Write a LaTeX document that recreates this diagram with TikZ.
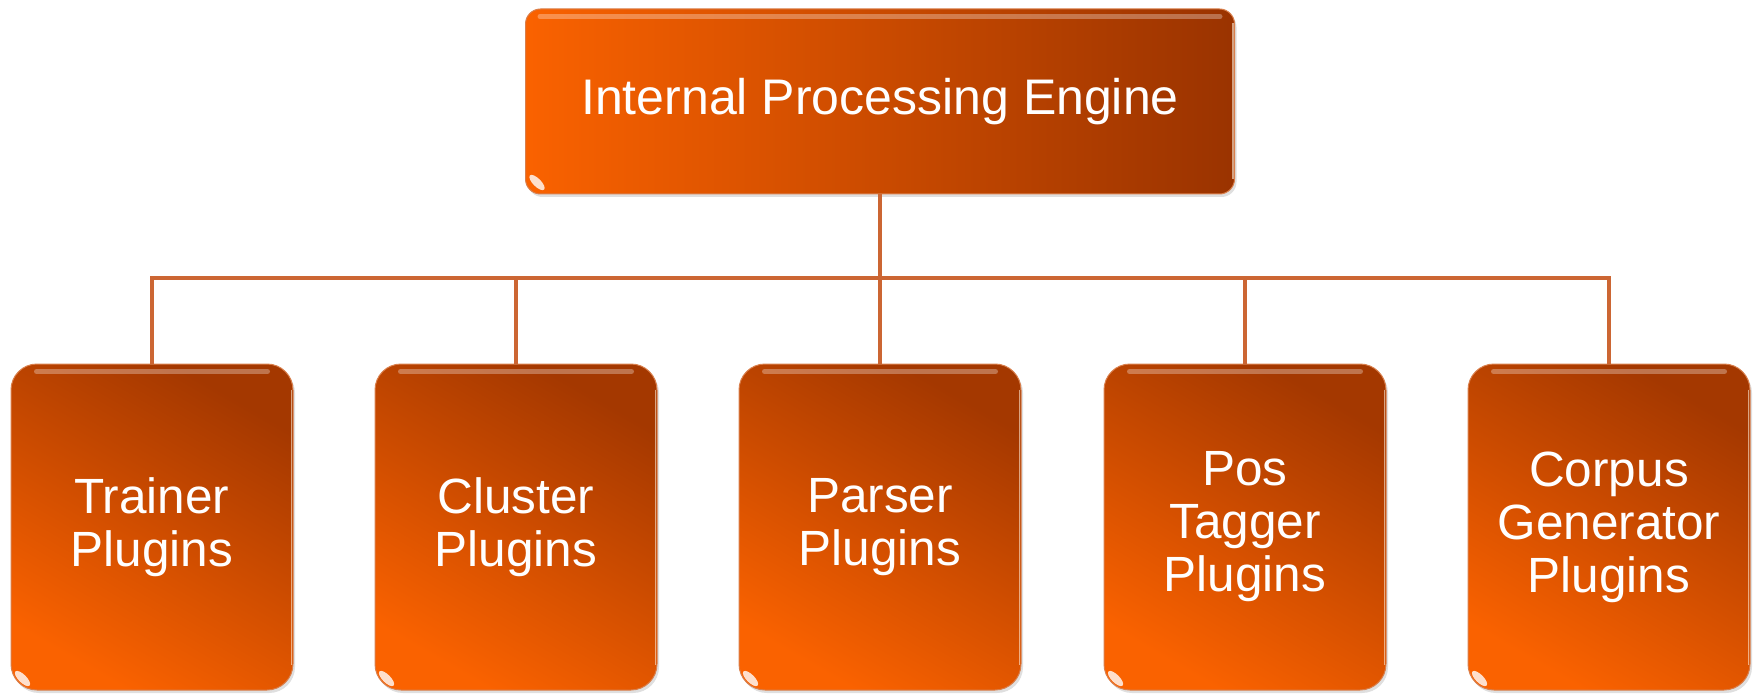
\documentclass[tikz,border=0pt]{standalone}
\usepackage{fontspec}
\setmainfont{Liberation Sans}
\usetikzlibrary{shadows,calc}
\definecolor{brightor}{HTML}{FA6200}
\definecolor{darkor}{HTML}{9A3300}
\definecolor{midor}{HTML}{C84800}
\definecolor{linecol}{HTML}{CC6633}
\begin{document}
\begin{tikzpicture}[x=1pt,y=-1pt,
  topbox/.style={rectangle, rounded corners=15pt, minimum width=709pt, minimum height=185pt,
    left color=brightor, right color=darkor, draw=midor!70!white, line width=1pt,
    drop shadow={opacity=0.25, shadow xshift=2pt, shadow yshift=-3pt},
    text=white, font=\fontsize{50}{53}\selectfont, align=center, inner sep=0pt},
  leafbox/.style={rectangle, rounded corners=26pt, minimum width=282pt, minimum height=326pt,
    top color=darkor!90!brightor, bottom color=brightor, shading angle=-30,
    draw=midor!70!white, line width=1pt,
    drop shadow={opacity=0.25, shadow xshift=2pt, shadow yshift=-3pt},
    text=white, font=\fontsize{49.5}{53}\selectfont, align=center, inner sep=0pt},
  conn/.style={draw=linecol, line width=4pt},
  glint/.style={fill=white, opacity=0.8}
]
\useasboundingbox (0,0) rectangle (1756,695);

\node[topbox] (top) at (880,101.5) {Internal Processing Engine};

\node[leafbox] (b1) at (152,527) {Trainer\\Plugins};
\node[leafbox] (b2) at (516,527) {Cluster\\Plugins};
\node[leafbox] (b3) at (880,527) {Parser\\Plugins};
\node[leafbox] (b4) at (1245,527) {Pos\\Tagger\\Plugins};
\node[leafbox] (b5) at (1609,527) {Corpus\\Generator\\Plugins};

% glossy highlights
\foreach \n/\r in {top/15,b1/26,b2/26,b3/26,b4/26,b5/26}{
  \draw[white, opacity=0.3, line width=5pt, line cap=round]
    ($(\n.north west)+(\r,8)$) -- ($(\n.north east)+(-\r,8)$);
  \fill[glint] ($(\n.south west)+(12,-12)$) ellipse [x radius=10pt, y radius=4pt, rotate=-45];
  \draw[white!85!orange, opacity=0.6, line width=1.5pt]
    ($(\n.north east)+(-2,\r)$) -- ($(\n.south east)+(-2,-\r)$);
}

\coordinate (bus) at (880,278);
\draw[conn] (top.south) -- (bus);
\draw[conn] (b1.north) -- (b1.north |- bus) -- (b5.north |- bus) -- (b5.north);
\draw[conn] (b2.north) -- (b2.north |- bus);
\draw[conn] (b3.north) -- (b3.north |- bus);
\draw[conn] (b4.north) -- (b4.north |- bus);
\end{tikzpicture}
\end{document}
